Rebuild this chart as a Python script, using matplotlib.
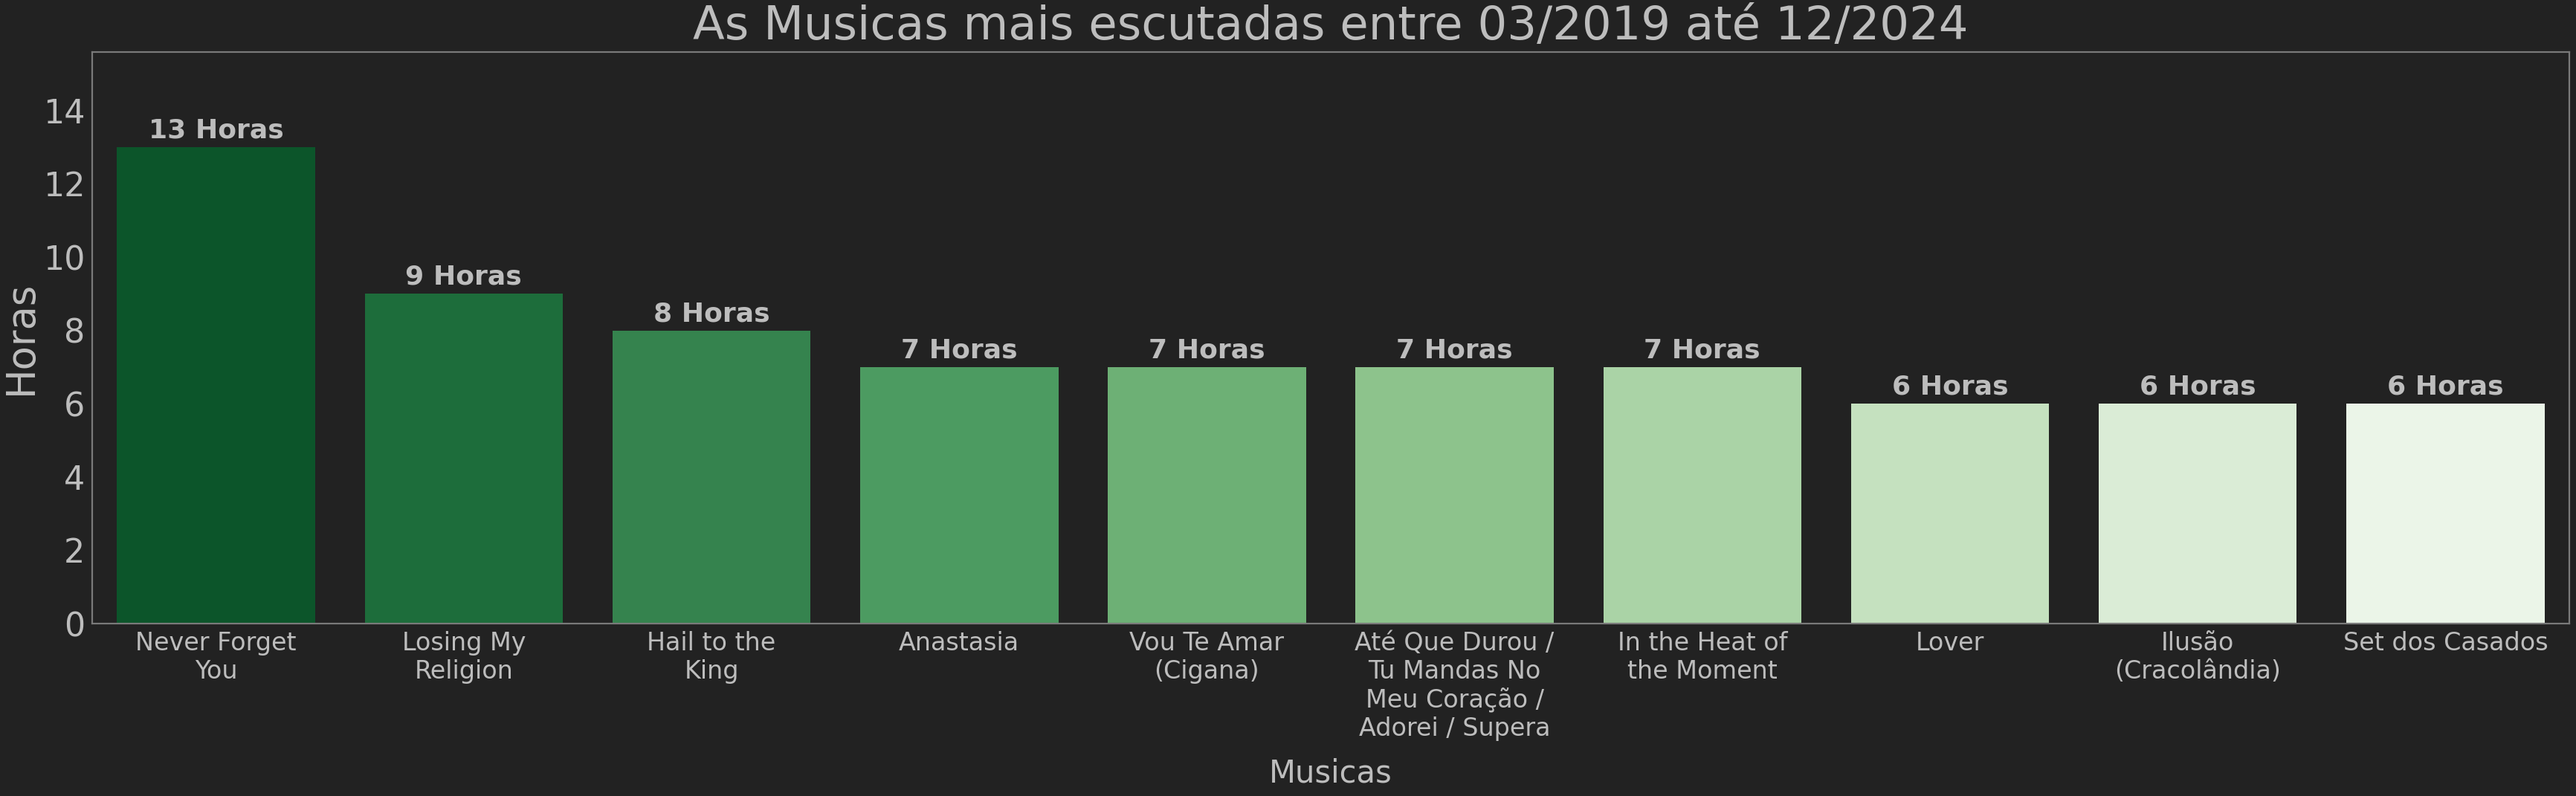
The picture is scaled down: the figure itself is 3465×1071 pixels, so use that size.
import textwrap
import matplotlib
matplotlib.use("Agg")
import matplotlib.pyplot as plt
import seaborn as sns

# data
musicas = ["Never Forget You", "Losing My Religion", "Hail to the King", "Anastasia",
           "Vou Te Amar (Cigana)",
           "Até Que Durou / Tu Mandas No Meu Coração / Adorei / Supera",
           "In the Heat of the Moment", "Lover", "Ilusão (Cracolândia)", "Set dos Casados"]
horas = [13, 9, 8, 7, 7, 7, 7, 6, 6, 6]

bg = "#222222"
txt = "#bdbdbd"
spine = "#7a7a7a"

labels = [textwrap.fill(m, 15) for m in musicas]

fig, ax = plt.subplots(figsize=(17.33, 5.355), dpi=200)
fig.patch.set_facecolor(bg)
ax.set_facecolor(bg)
fig.subplots_adjust(left=0.0358, right=0.9971, top=0.9346, bottom=0.2166)

sns.barplot(x=labels, y=horas, hue=labels, palette="Greens_r", legend=False, ax=ax)

for c in ax.containers:
    ax.bar_label(c, labels=[f"{int(v.get_height())} Horas" for v in c],
                 padding=2, color=txt, fontsize=13, fontweight="bold")

ax.set_ylim(0, max(horas) * 1.2)
ax.set_title("As Musicas mais escutadas entre 03/2019 até 12/2024",
             fontsize=22.5, color=txt, pad=6)
ax.set_xlabel("Musicas", fontsize=15, color=txt, labelpad=8)
ax.set_ylabel("Horas", fontsize=19, color=txt, labelpad=1.5)
ax.tick_params(axis="x", colors=txt, labelsize=12, length=0)
ax.tick_params(axis="y", colors=txt, labelsize=16, length=0)
for s in ax.spines.values():
    s.set_color(spine)

fig.savefig("out.png", dpi=200, facecolor=bg)
